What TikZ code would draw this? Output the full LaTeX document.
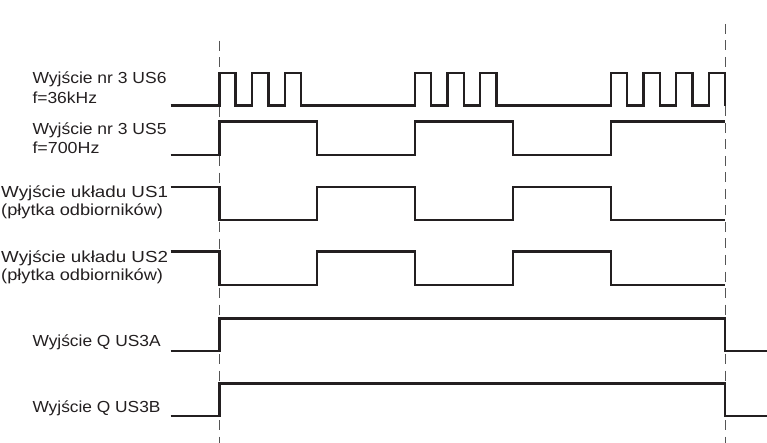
\documentclass[tikz,border=0pt]{standalone}
\usepackage{graphicx}
\usepackage{fontspec}
\setmainfont{Liberation Sans}
\definecolor{ink}{HTML}{231F20}
\definecolor{dashgray}{HTML}{555555}
\newcommand{\wlab}[2]{\resizebox{#1pt}{\height}{#2}}
\begin{document}
\begin{tikzpicture}[x=1pt,y=-1pt,
  sig/.style={draw=ink,line width=2.4pt,line join=miter},
  guide/.style={draw=dashgray,line width=0.9pt,dash pattern=on 10pt off 6.5pt},
  lbl/.style={anchor=base west,inner sep=0pt,text=ink,font=\fontsize{16}{19}\selectfont}]
\useasboundingbox (0,0) rectangle (767,443);
% guide lines
\draw[guide] (219.3,40.7) -- (219.3,443);
\draw[guide] (725,24) -- (725,443);
% labels
\node[lbl] (l6a) at (32.3,84) {\wlab{134}{Wyjście nr 3 US6}};
\node[lbl] (l6b) at (32.3,103.5) {\wlab{64.5}{f=36kHz}};
\node[lbl] (l5a) at (32.3,134.5) {\wlab{134}{Wyjście nr 3 US5}};
\node[lbl] (l5b) at (32.3,154) {\wlab{67}{f=700Hz}};
\node[lbl] (l1a) at (1,197.5) {\wlab{166.8}{Wyjście układu US1}};
\node[lbl] (l1b) at (1,216) {\wlab{161.8}{(płytka odbiorników)}};
\node[lbl] (l2a) at (1,262) {\wlab{166.8}{Wyjście układu US2}};
\node[lbl] (l2b) at (1,280.5) {\wlab{161.8}{(płytka odbiorników)}};
\node[lbl] (l3a) at (32.3,346) {\wlab{128.2}{Wyjście Q US3A}};
\node[lbl] (l3b) at (32.3,412.5) {\wlab{128}{Wyjście Q US3B}};
% US6 36 kHz bursts
\def\lo{105.7}\def\hi{73.3}
\draw[sig] (170.7,\lo)
  \foreach \x in {219.3,252,284.7,414.7,447.4,480.1,610.7,643.4,676.1} {
    -- (\x,\lo) -- (\x,\hi) -- (\x+16.3,\hi) -- (\x+16.3,\lo) }
  -- (708.8,\lo) -- (708.8,\hi) -- (725,\hi) -- (725,\lo);
% US5 700 Hz
\def\lo{155}\def\hi{121.7}
\draw[sig] (170.7,\lo) -- (219.3,\lo) -- (219.3,\hi) -- (317.15,\hi) -- (317.15,\lo)
  -- (415,\lo) -- (415,\hi) -- (512.85,\hi) -- (512.85,\lo) -- (610.7,\lo) -- (610.7,\hi) -- (725,\hi);
% US1
\def\lo{220}\def\hi{187.3}
\draw[sig] (170.7,\hi) -- (219.3,\hi) -- (219.3,\lo) -- (317.15,\lo) -- (317.15,\hi)
  -- (415,\hi) -- (415,\lo) -- (512.85,\lo) -- (512.85,\hi) -- (610.7,\hi) -- (610.7,\lo) -- (725,\lo);
% US2
\def\lo{285}\def\hi{251.7}
\draw[sig] (170.7,\hi) -- (219.3,\hi) -- (219.3,\lo) -- (317.15,\lo) -- (317.15,\hi)
  -- (415,\hi) -- (415,\lo) -- (512.85,\lo) -- (512.85,\hi) -- (610.7,\hi) -- (610.7,\lo) -- (725,\lo);
% US3A
\def\lo{350.7}\def\hi{318.3}
\draw[sig] (170.7,\lo) -- (219.3,\lo) -- (219.3,\hi) -- (725,\hi) -- (725,\lo) -- (767,\lo);
% US3B
\def\lo{415.7}\def\hi{383.3}
\draw[sig] (170.7,\lo) -- (219.3,\lo) -- (219.3,\hi) -- (725,\hi) -- (725,\lo) -- (767,\lo);
\end{tikzpicture}
\end{document}
